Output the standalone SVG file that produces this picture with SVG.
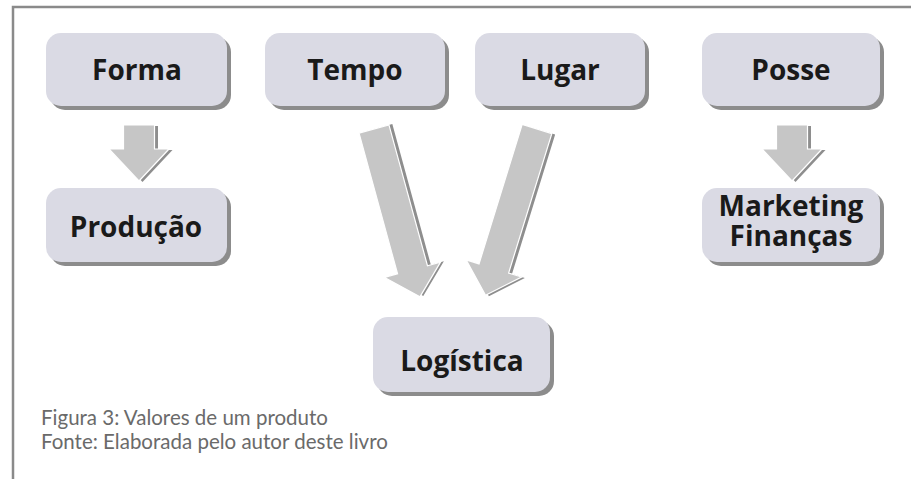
<svg xmlns="http://www.w3.org/2000/svg" width="911" height="479" viewBox="0 0 911 479">
<style>
.box{fill:#dadae4}
.sh{fill:#8c8c8c}
.lbl{font-family:"Open Sans","DejaVu Sans",sans-serif;font-weight:bold;font-size:28px;fill:#1a1a1a;text-anchor:middle}
.cap{font-family:Lato,"Liberation Sans",sans-serif;font-size:20.5px;fill:#6a6a6a}
.arr{fill:#c6c6c6;stroke:#ffffff;stroke-width:1.2}
.ash{fill:#8e8e8e}
</style>
<defs>
<path id="small" d="M-15.5,0 H15.5 V24 H30 L0,56 L-30,24 H-15.5 Z"/>
<path id="big" d="M-15.5,0 H15.5 V146 H29 L0,174 L-29,146 H-15.5 Z"/>
</defs>
<g id="frame" fill="none" stroke="#8a8a8a" stroke-width="2.5">
<path d="M13,479 V7 H911"/>
</g>
<g id="connectors">
<g transform="translate(139,125)"><use href="#small" class="ash" x="3.5" y="1"/><use href="#small" class="arr"/></g>
<g transform="translate(792,125)"><use href="#small" class="ash" x="3.5" y="1"/><use href="#small" class="arr"/></g>
<g transform="translate(374,129) rotate(-15.3)"><use href="#big" class="ash" x="3.5"/><use href="#big" class="arr"/></g>
<g transform="translate(537,129) rotate(17.2)"><use href="#big" class="ash" x="3.5"/><use href="#big" class="arr"/></g>
</g>
<g id="forma"><rect class="sh" x="50" y="37" width="181" height="73" rx="15"/><rect class="box" x="46" y="33" width="181" height="73" rx="15"/><text class="lbl" x="137" y="80">Forma</text></g>
<g id="tempo"><rect class="sh" x="269" y="37" width="180" height="73" rx="15"/><rect class="box" x="265" y="33" width="180" height="73" rx="15"/><text class="lbl" x="355" y="80">Tempo</text></g>
<g id="lugar"><rect class="sh" x="479" y="37" width="170" height="73" rx="15"/><rect class="box" x="475" y="33" width="170" height="73" rx="15"/><text class="lbl" x="560" y="80">Lugar</text></g>
<g id="posse"><rect class="sh" x="706" y="37" width="178" height="73" rx="15"/><rect class="box" x="702" y="33" width="178" height="73" rx="15"/><text class="lbl" x="791" y="80">Posse</text></g>
<g id="producao"><rect class="sh" x="50" y="192" width="181" height="74" rx="15"/><rect class="box" x="46" y="188" width="181" height="74" rx="15"/><text class="lbl" x="136" y="237">Produção</text></g>
<g id="marketing"><rect class="sh" x="706" y="192" width="178" height="74" rx="15"/><rect class="box" x="702" y="188" width="178" height="74" rx="15"/><text class="lbl" x="791" y="216">Marketing<tspan x="791" y="246">Finanças</tspan></text></g>
<g id="logistica"><rect class="sh" x="377" y="321" width="177" height="75" rx="15"/><rect class="box" x="373" y="317" width="177" height="75" rx="15"/><text class="lbl" x="462" y="371">Logística</text></g>
<g id="caption">
<text class="cap" x="41" y="425">Figura 3: Valores de um produto</text>
<text class="cap" x="41" y="449">Fonte: Elaborada pelo autor deste livro</text>
</g>
</svg>
